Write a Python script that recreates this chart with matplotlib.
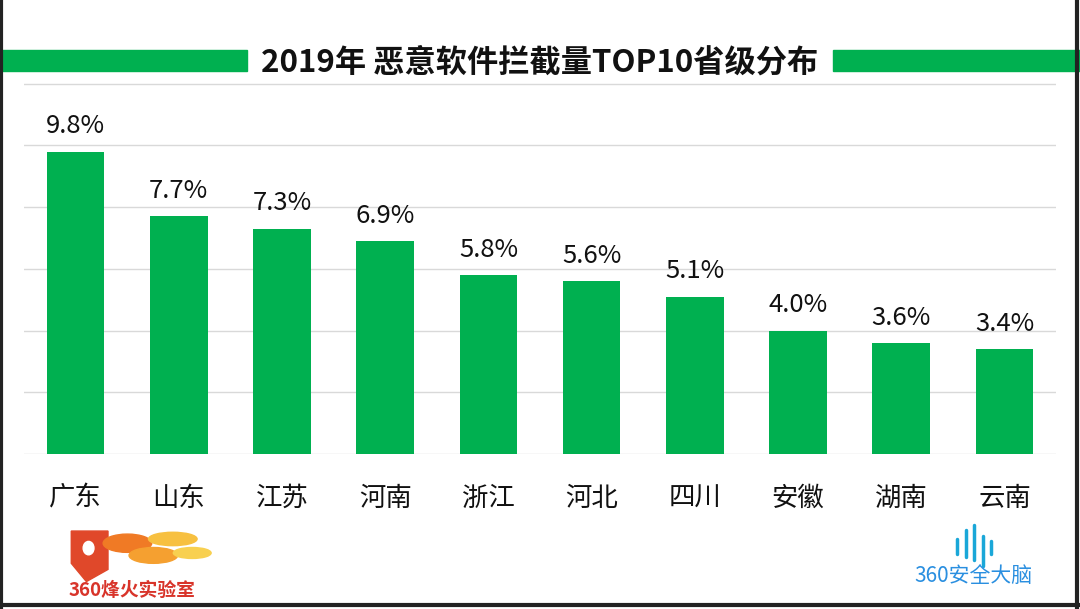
import matplotlib.pyplot as plt
from matplotlib.patches import Rectangle, Polygon, Ellipse

plt.rcParams['font.family'] = ['Noto Sans CJK SC', 'DejaVu Sans']

# data
provinces = ['广东', '山东', '江苏', '河南', '浙江', '河北', '四川', '安徽', '湖南', '云南']
share = [9.8, 7.7, 7.3, 6.9, 5.8, 5.6, 5.1, 4.0, 3.6, 3.4]
title = '2019年 恶意软件拦截量TOP10省级分布'

green = '#00B050'

fig = plt.figure(figsize=(10.8, 6.09), dpi=100)
ax = fig.add_axes([0.0222, 0.2545, 0.9556, 0.6095])

x = range(len(provinces))
ax.bar(x, share, width=0.56, color=green, zorder=3)
for i, v in zip(x, share):
    ax.text(i, v + 0.4, '%.1f%%' % v, ha='center', va='bottom',
            fontsize=18.5, color='#111111')

ax.set_xlim(-0.5, len(provinces) - 0.5)
ax.set_ylim(0, 12.03)
ax.set_yticks(range(0, 13, 2))
ax.yaxis.grid(True, color='#D9D9D9', linewidth=1, zorder=0)
ax.set_yticklabels([])
ax.tick_params(length=0)
ax.set_xticks(list(x))
ax.set_xticklabels(provinces, fontsize=19, color='#111111')
ax.tick_params(axis='x', pad=22)
for s in ax.spines.values():
    s.set_visible(False)

# title with green bars each side
fig.text(0.5, 0.898, title, ha='center', va='center', fontsize=22.5,
         fontweight='bold', color='#111111')
fig.patches.append(Rectangle((0, 0.883), 0.229, 0.035, transform=fig.transFigure,
                             color=green))
fig.patches.append(Rectangle((0.771, 0.883), 0.229, 0.035, transform=fig.transFigure,
                             color=green))

# left logo (rough): shield + flames + text
fig.patches.append(Polygon([(0.066, 0.128), (0.066, 0.075), (0.080, 0.045),
                            (0.100, 0.065), (0.100, 0.128)], closed=True,
                           transform=fig.transFigure, color='#E0482A'))
fig.patches.append(Ellipse((0.082, 0.100), 0.010, 0.022, transform=fig.transFigure,
                           color='white'))
for cx, cy, w, h, c in [(0.118, 0.108, 0.045, 0.030, '#F07A25'),
                        (0.142, 0.088, 0.045, 0.026, '#F5A030'),
                        (0.160, 0.115, 0.045, 0.022, '#F7C040'),
                        (0.178, 0.092, 0.035, 0.018, '#F8D050')]:
    fig.patches.append(Ellipse((cx, cy), w, h, transform=fig.transFigure, color=c))
fig.text(0.122, 0.030, '360烽火实验室', ha='center', va='center', fontsize=13.5,
         fontweight='bold', color='#D8342A')

# right logo (rough): bar icon + text
for dx, y0, y1 in [(0.0, 0.090, 0.115), (0.008, 0.085, 0.130), (0.016, 0.080, 0.138),
                   (0.024, 0.070, 0.120), (0.032, 0.090, 0.112)]:
    fig.add_artist(plt.Line2D([0.886 + dx, 0.886 + dx], [y0, y1],
                              transform=fig.transFigure, color='#1AA7D8',
                              linewidth=2.5, solid_capstyle='round'))
fig.text(0.901, 0.052, '360安全大脑', ha='center', va='center', fontsize=15,
         color='#2A8FE0')

# dark frame
for xs, ys in [([0.001, 0.001], [0, 1]), ([0.997, 0.997], [0, 1]),
               ([0, 1], [0.006, 0.006])]:
    fig.add_artist(plt.Line2D(xs, ys, transform=fig.transFigure, color='#222222',
                              linewidth=3))

fig.savefig('out.png', dpi=100)
